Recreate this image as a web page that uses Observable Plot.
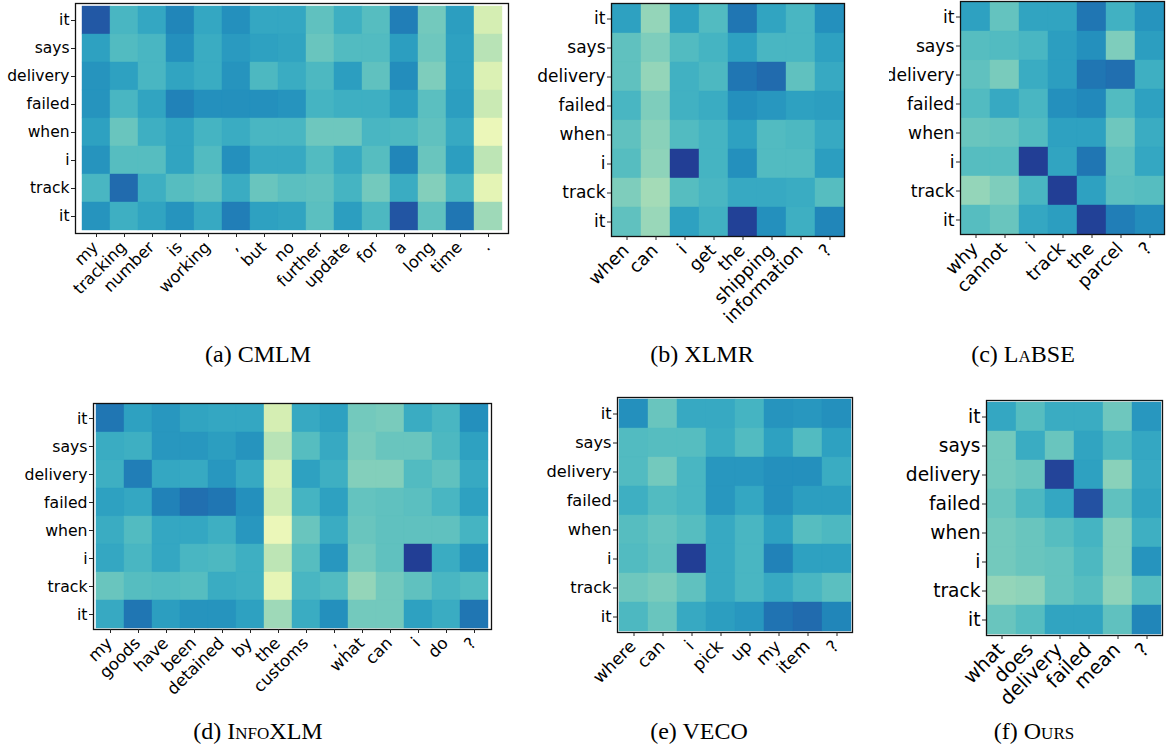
<!DOCTYPE html>
<html>
<head>
<meta charset="utf-8">
<script src="https://cdn.jsdelivr.net/npm/d3@7"></script>
<script src="https://cdn.jsdelivr.net/npm/@observablehq/plot@0.6"></script>
<style>
  html, body { margin: 0; padding: 0; background: #fff; }
  #wrap { position: relative; width: 1169px; height: 749px; overflow: hidden; background: #fff; }
  .cap { position: absolute; font-family: "Liberation Serif", "Times New Roman", serif; font-size: 24px; color: #000; text-align: center; width: 300px; line-height: 1; white-space: nowrap; }
  .sc { font-variant: small-caps; }
</style>
</head>
<body>
<div id="wrap"></div>
<script>
// ---- shared row tokens (target sentence) ----
const rowTokens = ["it", "says", "delivery", "failed", "when", "i", "track", "it"];

// ---- (a) CMLM ----
const colsA = ["my", "tracking", "number", "is", "working", ",", "but", "no", "further", "update", "for", "a", "long", "time", "."];
const valsA = [
  [0.77, 0.49, 0.55, 0.65, 0.55, 0.62, 0.55, 0.55, 0.44, 0.52, 0.46, 0.67, 0.40, 0.58, 0.20],
  [0.57, 0.47, 0.49, 0.62, 0.53, 0.59, 0.57, 0.56, 0.42, 0.47, 0.47, 0.58, 0.41, 0.57, 0.27],
  [0.61, 0.57, 0.49, 0.56, 0.53, 0.61, 0.48, 0.53, 0.48, 0.58, 0.44, 0.63, 0.38, 0.57, 0.18],
  [0.61, 0.49, 0.56, 0.66, 0.62, 0.62, 0.62, 0.61, 0.50, 0.52, 0.52, 0.58, 0.45, 0.58, 0.23],
  [0.57, 0.42, 0.52, 0.56, 0.50, 0.53, 0.49, 0.49, 0.41, 0.41, 0.49, 0.48, 0.44, 0.54, 0.12],
  [0.61, 0.46, 0.46, 0.56, 0.47, 0.62, 0.54, 0.54, 0.47, 0.54, 0.46, 0.65, 0.42, 0.58, 0.26],
  [0.49, 0.72, 0.52, 0.46, 0.44, 0.53, 0.42, 0.45, 0.44, 0.50, 0.40, 0.53, 0.37, 0.49, 0.15],
  [0.61, 0.52, 0.56, 0.61, 0.54, 0.67, 0.57, 0.56, 0.45, 0.58, 0.48, 0.78, 0.44, 0.69, 0.32]
];

// ---- (b) XLMR ----
const colsB = ["when", "can", "i", "get", "the", "shipping", "information", "?"];
const valsB = [
  [0.57, 0.34, 0.57, 0.47, 0.69, 0.56, 0.49, 0.62],
  [0.44, 0.38, 0.47, 0.50, 0.57, 0.49, 0.49, 0.57],
  [0.44, 0.34, 0.51, 0.48, 0.69, 0.72, 0.44, 0.54],
  [0.49, 0.38, 0.51, 0.53, 0.62, 0.60, 0.57, 0.58],
  [0.44, 0.36, 0.47, 0.50, 0.57, 0.47, 0.48, 0.54],
  [0.46, 0.35, 0.85, 0.50, 0.62, 0.47, 0.47, 0.58],
  [0.38, 0.31, 0.46, 0.49, 0.54, 0.54, 0.53, 0.46],
  [0.44, 0.33, 0.57, 0.51, 0.84, 0.62, 0.52, 0.65]
];

// ---- (c) LaBSE ----
const colsC = ["why", "cannot", "i", "track", "the", "parcel", "?"];
const valsC = [
  [0.57, 0.43, 0.56, 0.56, 0.69, 0.51, 0.61],
  [0.46, 0.47, 0.49, 0.58, 0.62, 0.38, 0.58],
  [0.44, 0.39, 0.53, 0.58, 0.69, 0.71, 0.52],
  [0.47, 0.54, 0.49, 0.62, 0.64, 0.47, 0.57],
  [0.42, 0.43, 0.47, 0.57, 0.57, 0.41, 0.53],
  [0.46, 0.46, 0.85, 0.56, 0.69, 0.44, 0.55],
  [0.34, 0.38, 0.49, 0.85, 0.57, 0.45, 0.46],
  [0.46, 0.42, 0.55, 0.58, 0.84, 0.67, 0.63]
];

// ---- (d) InfoXLM ----
const colsD = ["my", "goods", "have", "been", "detained", "by", "the", "customs", ",", "what", "can", "i", "do", "?"];
const valsD = [
  [0.69, 0.57, 0.60, 0.56, 0.55, 0.55, 0.20, 0.54, 0.57, 0.40, 0.39, 0.53, 0.49, 0.62],
  [0.53, 0.52, 0.60, 0.60, 0.58, 0.61, 0.27, 0.46, 0.54, 0.39, 0.42, 0.42, 0.48, 0.57],
  [0.52, 0.67, 0.55, 0.54, 0.60, 0.54, 0.18, 0.57, 0.52, 0.37, 0.37, 0.47, 0.44, 0.54],
  [0.57, 0.55, 0.66, 0.71, 0.69, 0.62, 0.22, 0.50, 0.57, 0.43, 0.44, 0.45, 0.49, 0.57],
  [0.53, 0.47, 0.55, 0.55, 0.52, 0.60, 0.12, 0.42, 0.53, 0.42, 0.44, 0.44, 0.44, 0.50],
  [0.55, 0.49, 0.55, 0.49, 0.48, 0.52, 0.26, 0.46, 0.60, 0.40, 0.44, 0.85, 0.53, 0.61],
  [0.42, 0.46, 0.47, 0.46, 0.53, 0.52, 0.14, 0.49, 0.47, 0.34, 0.40, 0.44, 0.49, 0.47],
  [0.54, 0.69, 0.58, 0.61, 0.61, 0.57, 0.32, 0.53, 0.62, 0.40, 0.40, 0.57, 0.53, 0.69]
];

// ---- (e) VECO ----
const colsE = ["where", "can", "i", "pick", "up", "my", "item", "?"];
const valsE = [
  [0.62, 0.42, 0.54, 0.54, 0.50, 0.61, 0.60, 0.62],
  [0.47, 0.46, 0.46, 0.53, 0.47, 0.57, 0.47, 0.57],
  [0.47, 0.40, 0.49, 0.60, 0.60, 0.62, 0.62, 0.53],
  [0.52, 0.47, 0.49, 0.60, 0.55, 0.62, 0.58, 0.58],
  [0.46, 0.43, 0.46, 0.54, 0.49, 0.57, 0.46, 0.48],
  [0.47, 0.44, 0.85, 0.54, 0.49, 0.66, 0.57, 0.57],
  [0.41, 0.39, 0.44, 0.54, 0.49, 0.54, 0.49, 0.45],
  [0.48, 0.42, 0.54, 0.58, 0.60, 0.70, 0.72, 0.65]
];

// ---- (f) Ours ----
const colsF = ["what", "does", "delivery", "failed", "mean", "?"];
const valsF = [
  [0.55, 0.46, 0.53, 0.53, 0.41, 0.60],
  [0.40, 0.53, 0.42, 0.56, 0.48, 0.55],
  [0.40, 0.42, 0.83, 0.57, 0.36, 0.54],
  [0.42, 0.48, 0.55, 0.79, 0.44, 0.56],
  [0.40, 0.42, 0.46, 0.50, 0.37, 0.52],
  [0.40, 0.42, 0.43, 0.48, 0.37, 0.61],
  [0.34, 0.35, 0.43, 0.46, 0.35, 0.46],
  [0.42, 0.46, 0.56, 0.56, 0.44, 0.65]
];

const wrap = document.getElementById("wrap");

function heat(rows, cols, vals, L) {
  const table = [];
  vals.forEach((row, r) => row.forEach((v, c) => table.push({r, c, v})));
  const ml = L.fx - L.sx, mt = L.fy - L.sy;
  const mr = L.sw - ml - L.fw, mb = L.sh - mt - L.fh;
  const svg = Plot.plot({
    width: L.sw, height: L.sh,
    marginLeft: ml, marginTop: mt, marginRight: mr, marginBottom: mb,
    style: {fontFamily: "'DejaVu Sans', sans-serif", fontSize: L.fs + "px", color: "#000", background: "transparent", overflow: L.clip ? "hidden" : "visible"},
    x: {type: "band", domain: d3.range(cols.length), padding: 0, axis: null},
    y: {type: "band", domain: d3.range(rows.length), padding: 0, axis: null},
    color: {type: "linear", scheme: "YlGnBu", domain: [0, 1]},
    marks: [
      Plot.cell(table, {x: "c", y: "r", fill: "v", stroke: "v", strokeWidth: 0.4, inset: 0}),
      Plot.frame({stroke: "#111", strokeWidth: 1.3}),
      Plot.axisY({tickFormat: i => rows[i], tickSize: 4, tickPadding: 2, label: null, fill: "#000", stroke: "#222"}),
      // tick marks only
      Plot.axisX({tickFormat: () => "", tickSize: 4, label: null, stroke: "#222"}),
      // rotated tick labels (matplotlib-style: right/top aligned under the tick)
      Plot.axisX({tickFormat: i => cols[i], tickSize: 0, tickPadding: 6, tickRotate: -45, label: null, fill: "#000", fontSize: L.fs * 1.05, dy: 5, dx: -1})
    ]
  });
  svg.style.position = "absolute";
  svg.style.left = L.sx + "px";
  svg.style.top = L.sy + "px";
  wrap.appendChild(svg);
}

heat(rowTokens, colsA, valsA, {sx: 0,   sy: 0,   sw: 535, sh: 330, fx: 75,  fy: 3,   fw: 433, fh: 230, fs: 15.5});
heat(rowTokens, colsB, valsB, {sx: 520, sy: 0,   sw: 341, sh: 330, fx: 611, fy: 3,   fw: 233, fh: 233, fs: 17});
heat(rowTokens, colsC, valsC, {sx: 889, sy: 0,   sw: 280, sh: 330, fx: 960, fy: 1,   fw: 204, fh: 233, fs: 17.2, clip: true});
heat(rowTokens, colsD, valsD, {sx: 0,   sy: 380, sw: 535, sh: 330, fx: 93,  fy: 403, fw: 398, fh: 226, fs: 15.7});
heat(rowTokens, colsE, valsE, {sx: 535, sy: 380, sw: 330, sh: 330, fx: 617, fy: 397, fw: 235, fh: 235, fs: 16.2});
heat(rowTokens, colsF, valsF, {sx: 865, sy: 380, sw: 304, sh: 330, fx: 986, fy: 400, fw: 176, fh: 235, fs: 18.6});

const captions = [
  {html: "(a) CMLM", cx: 258, top: 342},
  {html: "(b) XLMR", cx: 702, top: 342},
  {html: "(c) <span class='sc'>LaBSE</span>", cx: 1023, top: 342},
  {html: "(d) <span class='sc'>InfoXLM</span>", cx: 258, top: 719},
  {html: "(e) VECO", cx: 699, top: 719},
  {html: "(f) <span class='sc'>Ours</span>", cx: 1034, top: 719}
];
for (const c of captions) {
  const d = document.createElement("div");
  d.className = "cap";
  d.innerHTML = c.html;
  d.style.left = (c.cx - 150) + "px";
  d.style.top = c.top + "px";
  wrap.appendChild(d);
}
</script>
</body>
</html>
